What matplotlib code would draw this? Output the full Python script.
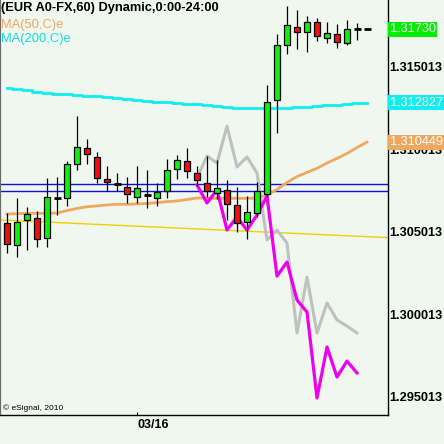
import matplotlib
matplotlib.use("Agg")
import matplotlib.pyplot as plt
import matplotlib.transforms as mtransforms

plt.rcParams['font.family'] = ['Liberation Sans', 'DejaVu Sans']

# ---- data ----
opens  = [1.30553, 1.30421, 1.30571, 1.30583, 1.30462, 1.30708, 1.30704, 1.30910, 1.31007, 1.30956,
          1.30819, 1.30791, 1.30775, 1.30714, 1.30724, 1.30708, 1.30750, 1.30880, 1.30929, 1.30856,
          1.30795, 1.30735, 1.30755, 1.30664, 1.30558, 1.30613, 1.30730, 1.31300, 1.31633, 1.31741,
          1.31710, 1.31771, 1.31674, 1.31700, 1.31644, 1.31730, 1.31730]
highs  = [1.30613, 1.30704, 1.30653, 1.30627, 1.30826, 1.30835, 1.30930, 1.31203, 1.31062, 1.30983,
          1.30900, 1.30856, 1.30832, 1.30900, 1.30876, 1.30795, 1.30941, 1.30967, 1.31007, 1.30900,
          1.30961, 1.30936, 1.30815, 1.30771, 1.30718, 1.30805, 1.31391, 1.31700, 1.31870, 1.31845,
          1.31809, 1.31795, 1.31775, 1.31761, 1.31785, 1.31768, 1.31730]
lows   = [1.30371, 1.30350, 1.30391, 1.30411, 1.30411, 1.30603, 1.30658, 1.30876, 1.30910, 1.30795,
          1.30749, 1.30749, 1.30674, 1.30678, 1.30647, 1.30660, 1.30708, 1.30819, 1.30829, 1.30779,
          1.30712, 1.30700, 1.30573, 1.30502, 1.30458, 1.30593, 1.30714, 1.31098, 1.31577, 1.31607,
          1.31589, 1.31659, 1.31644, 1.31613, 1.31633, 1.31664, 1.31730]
closes = [1.30426, 1.30559, 1.30607, 1.30456, 1.30710, 1.30708, 1.30910, 1.31013, 1.30973, 1.30829,
          1.30801, 1.30791, 1.30729, 1.30765, 1.30724, 1.30741, 1.30874, 1.30935, 1.30868, 1.30815,
          1.30749, 1.30765, 1.30668, 1.30553, 1.30620, 1.30746, 1.31286, 1.31633, 1.31755, 1.31710,
          1.31775, 1.31688, 1.31704, 1.31653, 1.31728, 1.31730, 1.31730]

ma200 = [1.31375, 1.31369, 1.31362, 1.31350, 1.31344, 1.31338, 1.31338, 1.31332, 1.31326, 1.31326,
         1.31320, 1.31314, 1.31308, 1.31302, 1.31296, 1.31290, 1.31290, 1.31284, 1.31278, 1.31273,
         1.31270, 1.31264, 1.31258, 1.31252, 1.31250, 1.31250, 1.31250, 1.31250, 1.31253, 1.31256,
         1.31259, 1.31264, 1.31268, 1.31272, 1.31276, 1.31280, 1.312827]
ma50 = [1.30609, 1.30611, 1.30613, 1.30613, 1.30613, 1.30615, 1.30630, 1.30643, 1.30653, 1.30658,
        1.30664, 1.30668, 1.30668, 1.30670, 1.30673, 1.30678, 1.30684, 1.30688, 1.30697, 1.30706,
        1.30704, 1.30704, 1.30704, 1.30704, 1.30704, 1.30706, 1.30724, 1.30758, 1.30800, 1.30836,
        1.30861, 1.30886, 1.30918, 1.30946, 1.30976, 1.31012, 1.310449]

proj_start = 19
proj_magenta = [1.30785, 1.30676, 1.30755, 1.30512, 1.30591, 1.30512, 1.30603, 1.30718, 1.30233,
                1.30318, 1.30088, 1.30015, 1.29494, 1.29803, 1.29621, 1.29718, 1.29646]
proj_gray = [1.30827, 1.30961, 1.30918, 1.31142, 1.30894, 1.30955, 1.30858, 1.30452, 1.30512,
             1.30433, 1.29888, 1.30227, 1.29888, 1.30070, 1.29967, 1.29930, 1.29888]

blue_levels = [1.30789, 1.30747]
yellow_x = [-0.7, 38.1]
yellow_y = [1.30573, 1.30466]

ytick_vals = [1.295013, 1.300013, 1.305013, 1.310013, 1.315013]
ytick_labels = ["1.295013", "1.300013", "1.305013", "1.310013", "1.315013"]
xtick_pos = [13]
xtick_labels = ["03/16"]

tags = [(1.31730, "1.31730", "#00ee00"),
        (1.312827, "1.312827", "#11eeee"),
        (1.310449, "1.310449", "#eea860")]

# ---- figure ----
bg = "#eff7ef"
fig = plt.figure(figsize=(4.44, 4.44), dpi=100, facecolor=bg)
ax = fig.add_axes([0 / 444, 29 / 444, 388 / 444, 415 / 444], facecolor=bg)
ax.set_xlim(-0.7, 38.1)
ax.set_ylim(1.293911, 1.31906)

n = len(opens)
xs = list(range(n))

# trend / level lines
ax.plot(yellow_x, yellow_y, color="#f2d000", lw=1.0, zorder=2)
for lv in blue_levels:
    ax.axhline(lv, color="#1010dd", lw=1.0, zorder=2)

# moving averages
ax.plot(xs, ma200, color="#11eeee", lw=2.0, zorder=2.2, drawstyle="steps-mid")
ax.plot(xs, ma50, color="#eea860", lw=2.0, zorder=2.2)

# projection lines
px = list(range(proj_start, proj_start + len(proj_gray)))
ax.plot(px, proj_gray, color="#c0c0c0", lw=2.2, zorder=2.4)
ax.plot(px, proj_magenta, color="#ee00ee", lw=2.3, zorder=2.6)

# candles
bw = 0.62
for i in xs:
    o, h, l, c = opens[i], highs[i], lows[i], closes[i]
    if h > l:
        ax.vlines(i, l, h, color="black", lw=0.9, zorder=3)
    if abs(c - o) < 0.00002:
        ax.hlines(o, i - 0.35, i + 0.35, color="black", lw=2.0, zorder=3.2)
    else:
        col = "#11ee11" if c > o else "#ee1111"
        ax.bar(i, abs(c - o), bottom=min(o, c), width=bw, color=col,
               edgecolor="black", linewidth=0.9, zorder=3.1)

# axes styling
ax.spines["top"].set_visible(False)
ax.spines["left"].set_color("#6a6a6a")
ax.spines["left"].set_linewidth(1.6)
ax.spines["right"].set_color("black")
ax.spines["bottom"].set_color("black")
ax.spines["right"].set_linewidth(1.0)
ax.spines["bottom"].set_linewidth(1.0)

ax.yaxis.tick_right()
ax.set_yticks(ytick_vals)
ax.set_yticklabels(ytick_labels, fontsize=9.2, fontweight="bold")
ax.tick_params(axis="y", length=0, pad=1)
ax.set_xticks(xtick_pos)
ax.set_xticklabels(xtick_labels, fontsize=9.0, fontweight="bold", ha="left")
ax.tick_params(axis="x", length=2, direction="in", pad=3)

# price tags
trans = mtransforms.blended_transform_factory(ax.transAxes, ax.transData)
for val, txt, col in tags:
    ax.text(1.004, val, txt, transform=trans, ha="left", va="center",
            fontsize=9.2, color="white", clip_on=False, zorder=10,
            bbox=dict(facecolor=col, edgecolor="none", boxstyle="square,pad=0.12"))

# header texts
fig.text(1 / 444, 1 - 8 / 444, "(EUR A0-FX,60) Dynamic,0:00-24:00", fontsize=9.3,
         fontweight="bold", color="black", ha="left", va="center")
fig.text(1 / 444, 1 - 25 / 444, "MA(50,C)e", fontsize=9.3, color="#eea860",
         ha="left", va="center")
fig.text(1 / 444, 1 - 39 / 444, "MA(200,C)e", fontsize=9.3, color="#11dddd",
         ha="left", va="center")
fig.text(3 / 444, 1 - 408 / 444, "\u00a9 eSignal, 2010", fontsize=6, color="black",
         ha="left", va="center")

fig.savefig("out.png", dpi=100, facecolor=bg)
